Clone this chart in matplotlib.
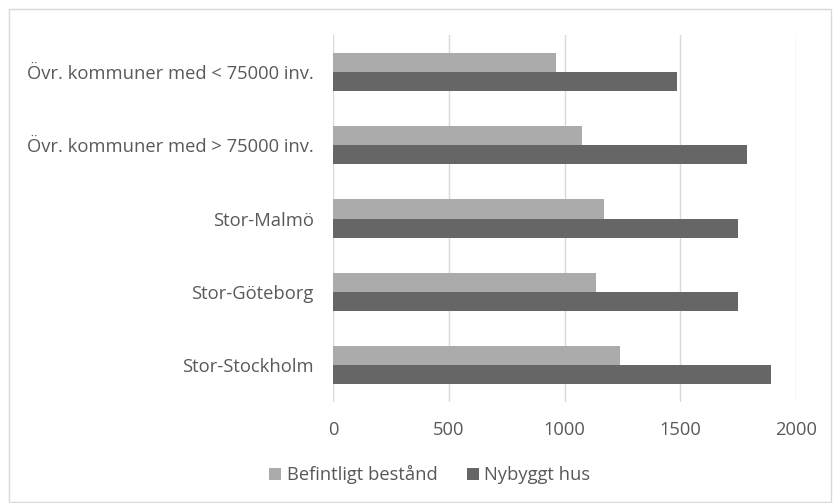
import numpy as np
import matplotlib.pyplot as plt
from matplotlib.patches import Rectangle

categories = ['Stor-Stockholm', 'Stor-Göteborg', 'Stor-Malmö',
              'Övr. kommuner med > 75000 inv.', 'Övr. kommuner med < 75000 inv.']
befintligt = [1239, 1134, 1172, 1075, 962]
nybyggt = [1892, 1749, 1748, 1787, 1488]
xticks = [0, 500, 1000, 1500, 2000]

plt.rcParams['font.family'] = ['Open Sans', 'DejaVu Sans']
text_col = '#595959'
fs = 13.2

fig = plt.figure(figsize=(8.33, 5.03), dpi=100)
ax = fig.add_axes([0.3998, 0.2008, 0.5558, 0.7296])

y = np.arange(len(categories))
h = 0.26
ax.barh(y + h / 2, befintligt, height=h, color='#ababab', label='Befintligt bestånd', zorder=3)
ax.barh(y - h / 2, nybyggt, height=h, color='#666666', label='Nybyggt hus', zorder=3)

ax.set_xlim(0, 2000)
ax.set_ylim(-0.5, len(categories) - 0.5)
ax.set_xticks(xticks)
ax.set_yticks(y)
ax.set_yticklabels(categories)
ax.grid(axis='x', color='#d9d9d9', linewidth=1, zorder=0)
ax.tick_params(axis='both', length=0, labelsize=fs, labelcolor=text_col)
ax.tick_params(axis='y', pad=14)
ax.tick_params(axis='x', pad=14)
for s in ax.spines.values():
    s.set_visible(False)

fig.legend(loc='center', bbox_to_anchor=(0.516, 0.056), ncol=2, frameon=False,
           fontsize=fs, labelcolor=text_col, handlelength=0.65, handleheight=0.65,
           handletextpad=0.3, columnspacing=1.6)

fig.patches.append(Rectangle((9 / 833, 1 / 503), 822 / 833, 493 / 503, transform=fig.transFigure,
                             fill=False, edgecolor='#d9d9d9', linewidth=1))

fig.savefig('out.png', dpi=100)
